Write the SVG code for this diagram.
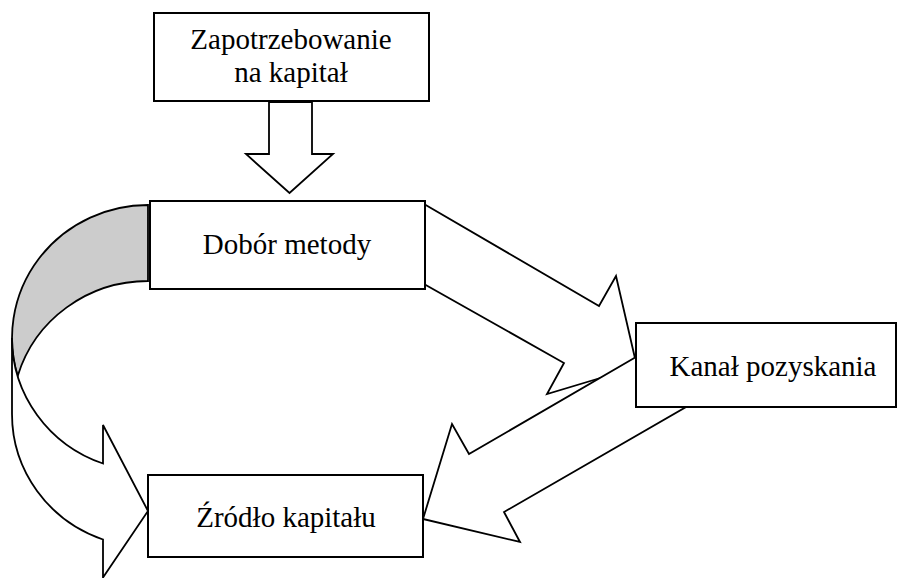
<svg xmlns="http://www.w3.org/2000/svg" width="898" height="578" viewBox="0 0 898 578">
  <style>
    .box { fill: #ffffff; stroke: #000000; stroke-width: 2; }
    .arrow { fill: #ffffff; stroke: #000000; stroke-width: 1.8; stroke-linejoin: miter; }
    .back { fill: #cccccc; stroke: #000000; stroke-width: 1.8; }
    .label { font-family: "Liberation Serif", "Times New Roman", serif; font-size: 29px; fill: #000000; text-anchor: middle; }
  </style>
  <rect x="0" y="0" width="898" height="578" fill="#ffffff"/>

  <g id="connectors">
    <!-- block arrow: demand -> method -->
    <polygon class="arrow" points="269,102 312,102 312,154 333,154 289.5,193 246,154 269,154"/>
    <!-- block arrow: method -> channel -->
    <polygon class="arrow" points="424,204 599,306 616,276 637,367 547,394 564,363 424,284"/>
    <!-- block arrow: channel -> source -->
    <polygon class="arrow" points="636,357 469,454 452,424 423,519 520,542 504,512 686,407"/>
    <!-- curved arrow: method -> source (shaded back part, then front part) -->
    <path class="back" d="M148,281 A136,133 0 0 0 17.7,376 A136,133 0 0 1 148,205 Z"/>
    <path class="arrow" d="M12,338 A136,133 0 0 0 103,463.5 L103,425 L148,511 L103,577.5 L103,539.5 A136,133 0 0 1 12,414 Z"/>
  </g>

  <g id="node-demand">
    <rect class="box" x="154" y="13" width="275" height="88"/>
    <text class="label" x="291" y="49">Zapotrzebowanie</text>
    <text class="label" x="291" y="82">na kapitał</text>
  </g>

  <g id="node-method">
    <rect class="box" x="150" y="201" width="275" height="88"/>
    <text class="label" x="287" y="254">Dobór metody</text>
  </g>

  <g id="node-channel">
    <rect class="box" x="636" y="323" width="260" height="84"/>
    <text class="label" x="773" y="376">Kanał pozyskania</text>
  </g>

  <g id="node-source">
    <rect class="box" x="148" y="475" width="275" height="82"/>
    <text class="label" x="286" y="527">Źródło kapitału</text>
  </g>
</svg>
